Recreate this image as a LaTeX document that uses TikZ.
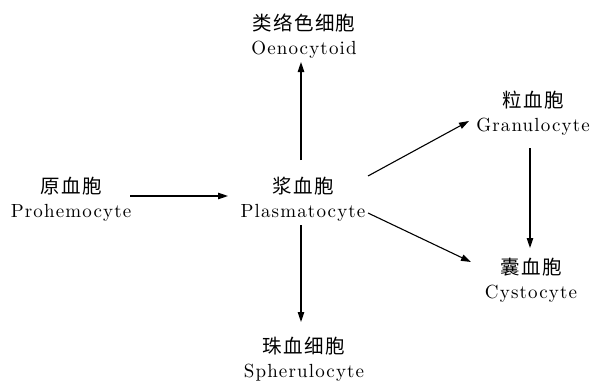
\documentclass[tikz,border=0pt]{standalone}
\usepackage{fontspec}
\newfontfamily\cjk{Noto Sans CJK SC}[LetterSpace=7]
\newfontfamily\lat{lmroman10-regular.otf}[LetterSpace=6]
\usetikzlibrary{arrows.meta}
\tikzset{
  cell/.style={align=center, inner sep=0pt,
    font=\lat\fontsize{19}{24.5}\selectfont},
  arr/.style={line width=1.1pt, -{Triangle[length=10pt,width=6.5pt]}}
}
\newcommand{\zh}[1]{{\cjk\fontsize{19.5}{24.5}\selectfont #1}}
\begin{document}
\begin{tikzpicture}[x=1pt,y=-1pt]
\useasboundingbox (0,0) rectangle (591,380);
\node[cell] (oen) at (304,36) {\zh{类络色细胞}\\Oenocytoid};
\node[cell] (pro) at (71,199) {\zh{原血胞}\\Prohemocyte};
\node[cell] (pla) at (303,199) {\zh{浆血胞}\\Plasmatocyte};
\node[cell] (gra) at (533,113) {\zh{粒血胞}\\Granulocyte};
\node[cell] (cys) at (531,280) {\zh{囊血胞}\\Cystocyte};
\node[cell] (sph) at (304,359) {\zh{珠血细胞}\\Spherulocyte};
\draw[arr] ([shift={(59,-3)}]pro.center) -- ([shift={(-75,-3)}]pla.center);
\draw[arr] ([shift={(-2,-39)}]pla.center) -- ([shift={(-3,26)}]oen.center);
\draw[arr] ([shift={(-2,26)}]pla.center) -- ([shift={(-3,-37)}]sph.center);
\draw[arr] ([shift={(65,-23)}]pla.center) -- ([shift={(-64,8)}]gra.center);
\draw[arr] ([shift={(65,14)}]pla.center) -- ([shift={(-60,-18)}]cys.center);
\draw[arr] ([shift={(-3,35)}]gra.center) -- ([shift={(-1,-32)}]cys.center);
\end{tikzpicture}
\end{document}
